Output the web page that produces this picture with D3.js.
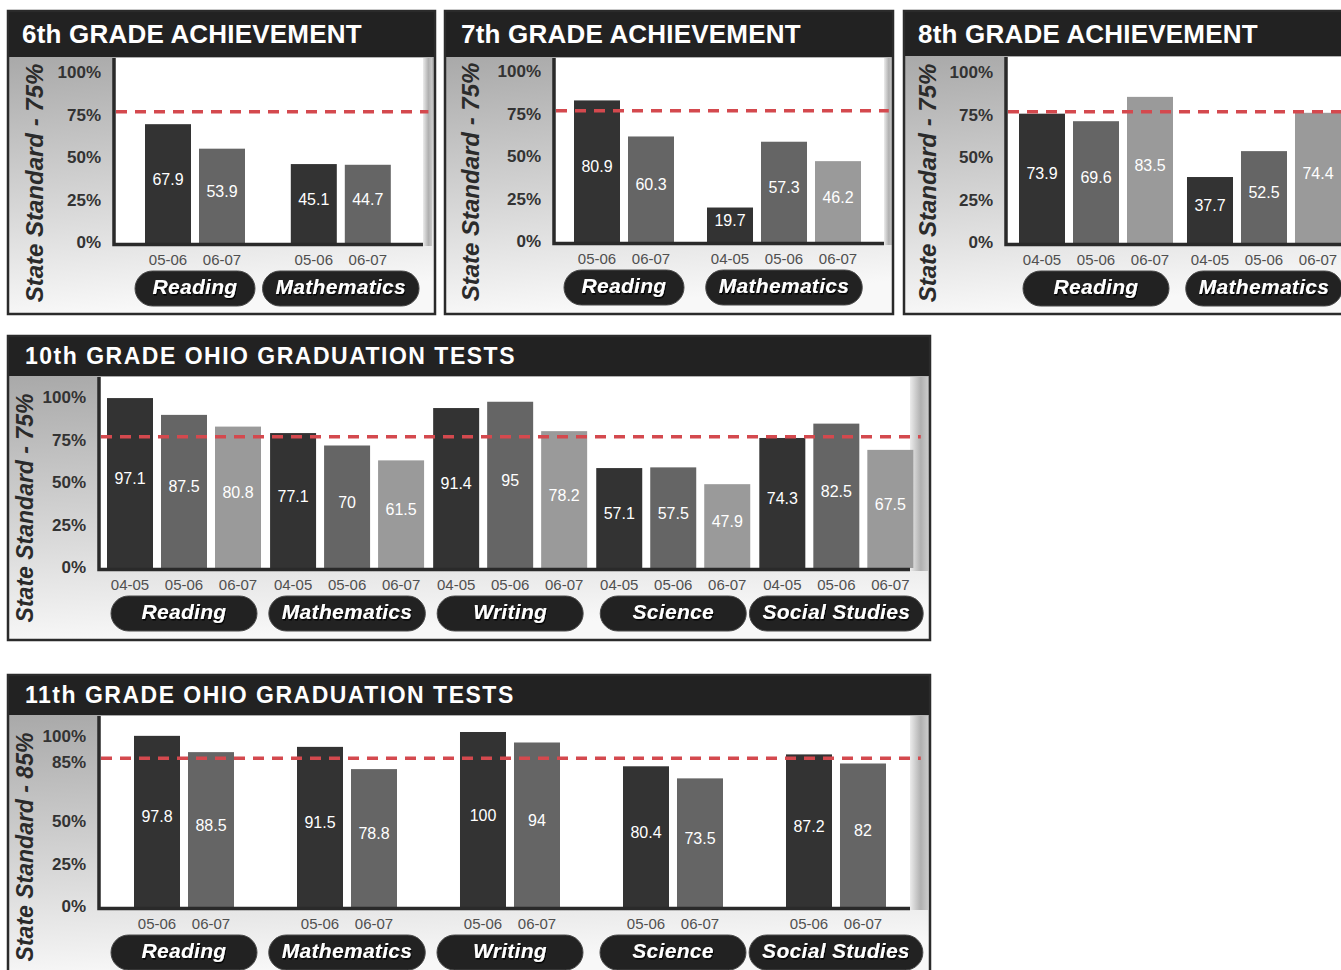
<!DOCTYPE html>
<html>
<head>
<meta charset="utf-8">
<title>Ohio achievement and graduation tests</title>
<script src="https://d3js.org/d3.v7.min.js"></script>
<style>
  body { margin: 0; background: #fff; }
  text { font-family: "Liberation Sans", Arial, Helvetica, sans-serif; }
</style>
</head>
<body>
<div id="viz"></div>
<script>
// ---- data ----
var g6Subjects = ["Reading", "Mathematics"];
var g6Years = [["05-06", "06-07"], ["05-06", "06-07"]];
var g6Scores = [[67.9, 53.9], [45.1, 44.7]];

var g7Subjects = ["Reading", "Mathematics"];
var g7Years = [["05-06", "06-07"], ["04-05", "05-06", "06-07"]];
var g7Scores = [[80.9, 60.3], [19.7, 57.3, 46.2]];

var g8Subjects = ["Reading", "Mathematics"];
var g8Years = [["04-05", "05-06", "06-07"], ["04-05", "05-06", "06-07"]];
var g8Scores = [[73.9, 69.6, 83.5], [37.7, 52.5, 74.4]];

var g10Subjects = ["Reading", "Mathematics", "Writing", "Science", "Social Studies"];
var g10Years = [["04-05", "05-06", "06-07"], ["04-05", "05-06", "06-07"], ["04-05", "05-06", "06-07"],
                ["04-05", "05-06", "06-07"], ["04-05", "05-06", "06-07"]];
var g10Scores = [[97.1, 87.5, 80.8], [77.1, 70, 61.5], [91.4, 95, 78.2], [57.1, 57.5, 47.9], [74.3, 82.5, 67.5]];

var g11Subjects = ["Reading", "Mathematics", "Writing", "Science", "Social Studies"];
var g11Years = [["05-06", "06-07"], ["05-06", "06-07"], ["05-06", "06-07"], ["05-06", "06-07"], ["05-06", "06-07"]];
var g11Scores = [[97.8, 88.5], [91.5, 78.8], [100, 94], [80.4, 73.5], [87.2, 82]];

var ticks75 = [0, 25, 50, 75, 100];
var ticks85 = [0, 25, 50, 85, 100];

// ---- panel layout ----
var panels = [
  {title: "6th GRADE ACHIEVEMENT", subjects: g6Subjects, years: g6Years, scores: g6Scores,
   standard: 75, ticks: ticks75, yLabel: "State Standard - 75%",
   box: [8, 11, 427, 303], head: 46, axisX: 115, base: 243, right: 423, strip: 9,
   x0: 145, gap: 0.70, tSize: 26, tSpace: 0.2, tDx: 14, minPill: 120, lSize: 24, lDx: 35},
  {title: "7th GRADE ACHIEVEMENT", subjects: g7Subjects, years: g7Years, scores: g7Scores,
   standard: 75, ticks: ticks75, yLabel: "State Standard - 75%",
   box: [445, 11, 448, 303], head: 46, axisX: 555, base: 242, right: 884, strip: 8,
   x0: 574, gap: 0.463, tSize: 26, tSpace: 0.2, tDx: 16, minPill: 120, lSize: 24, lDx: 34},
  {title: "8th GRADE ACHIEVEMENT", subjects: g8Subjects, years: g8Years, scores: g8Scores,
   standard: 75, ticks: ticks75, yLabel: "State Standard - 75%",
   box: [904, 11, 452, 303], head: 45, axisX: 1007, base: 243, right: 1345, strip: 9,
   x0: 1019, gap: 0.111, tSize: 26, tSpace: 0.2, tDx: 14, minPill: 146, lSize: 24, lDx: 32},
  {title: "10th GRADE OHIO GRADUATION TESTS", subjects: g10Subjects, years: g10Years, scores: g10Scores,
   standard: 75, ticks: ticks75, yLabel: "State Standard - 75%",
   box: [8, 336, 922, 304], head: 40, axisX: 100, base: 568, right: 910, strip: 18,
   x0: 107, gap: 0.02, tSize: 23, tSpace: 1.5, tDx: 17, minPill: 146, lSize: 23, lDx: 25},
  {title: "11th GRADE OHIO GRADUATION TESTS", subjects: g11Subjects, years: g11Years, scores: g11Scores,
   standard: 85, ticks: ticks85, yLabel: "State Standard - 85%",
   box: [8, 675, 922, 300], head: 40, axisX: 100, base: 907, right: 910, strip: 18,
   x0: 134, gap: 1.0185, tSize: 23, tSpace: 1.5, tDx: 17, minPill: 146, lSize: 23, lDx: 25}
];

var barColors = ["#333333", "#656565", "#9a9a9a"];
var barStep = 54, barW = 46;

var svg = d3.select("#viz").append("svg")
    .attr("width", 1341)
    .attr("height", 970);

var defs = svg.append("defs");

var bg = defs.append("linearGradient").attr("id", "bgGrad")
    .attr("x1", 0).attr("y1", 0).attr("x2", 0.15).attr("y2", 1);
bg.append("stop").attr("offset", "0%").attr("stop-color", "#a9a9a9");
bg.append("stop").attr("offset", "65%").attr("stop-color", "#dcdcdc");
bg.append("stop").attr("offset", "100%").attr("stop-color", "#f8f8f8");

var sg = defs.append("linearGradient").attr("id", "stripGrad")
    .attr("x1", 0).attr("y1", 0).attr("x2", 1).attr("y2", 0);
sg.append("stop").attr("offset", "0%").attr("stop-color", "#ececec");
sg.append("stop").attr("offset", "60%").attr("stop-color", "#b0b0b0");
sg.append("stop").attr("offset", "100%").attr("stop-color", "#cacaca");

var sh = defs.append("filter").attr("id", "pillShadow")
    .attr("x", "-10%").attr("y", "-20%").attr("width", "130%").attr("height", "160%");
sh.append("feDropShadow").attr("dx", 1).attr("dy", 1.5).attr("stdDeviation", 0.7)
    .attr("flood-color", "#000").attr("flood-opacity", 0.9);

function drawPanel(p) {
  var g = svg.append("g");
  var bx = p.box[0], by = p.box[1], bw = p.box[2], bh = p.box[3];
  var top = by + p.head;

  // backgrounds
  g.append("rect").attr("x", bx).attr("y", top).attr("width", bw).attr("height", bh - p.head)
      .attr("fill", "url(#bgGrad)");
  g.append("rect").attr("x", bx).attr("y", by).attr("width", bw).attr("height", p.head)
      .attr("fill", "#222222");
  g.append("rect").attr("x", p.axisX).attr("y", top + 1).attr("width", p.right - p.axisX).attr("height", p.base - top - 1)
      .attr("fill", "#ffffff");
  g.append("rect").attr("x", p.right).attr("y", top + 1).attr("width", p.strip).attr("height", p.base - top + 2)
      .attr("fill", "url(#stripGrad)");

  // title
  g.append("text")
      .attr("x", bx + p.tDx)
      .attr("y", by + p.head / 2 + p.tSize * 0.36)
      .attr("fill", "#ffffff")
      .style("font-size", p.tSize + "px")
      .style("font-weight", "bold")
      .style("letter-spacing", p.tSpace + "px")
      .text(p.title);

  var y = d3.scaleLinear().domain([0, 100]).range([p.base, p.base - 175]);
  var yTick = d3.scaleLinear().domain([0, 100]).range([p.base - 1, p.base - 171]);
  var xs = d3.scaleLinear().domain([0, 1]).range([p.x0, p.x0 + barStep]);

  // flatten the groups into bar slots
  var bars = [], slot = 0;
  p.subjects.forEach(function(s, gi) {
    p.scores[gi].forEach(function(v, bi) {
      bars.push({group: gi, idx: bi, year: p.years[gi][bi], value: v, slot: slot + gi * p.gap});
      slot++;
    });
  });

  // y tick labels
  g.selectAll(".tick")
      .data(p.ticks)
      .enter()
      .append("text")
      .attr("x", p.axisX - 14)
      .attr("y", function(d) { return yTick(d) + 6; })
      .attr("text-anchor", "end")
      .attr("fill", "#333333")
      .style("font-size", "17px")
      .style("font-weight", "bold")
      .text(function(d) { return d + "%"; });

  // rotated axis title
  g.append("text")
      .attr("transform", "translate(" + (bx + p.lDx) + "," + (p.base - 60) + ") rotate(-90)")
      .attr("text-anchor", "middle")
      .attr("fill", "#2b2b2b")
      .style("font-size", p.lSize + "px")
      .style("font-weight", "bold")
      .style("font-style", "italic")
      .text(p.yLabel);

  // bars
  g.selectAll(".bar")
      .data(bars)
      .enter()
      .append("rect")
      .attr("x", function(d) { return xs(d.slot); })
      .attr("y", function(d) { return y(d.value); })
      .attr("width", barW)
      .attr("height", function(d) { return y(0) - y(d.value); })
      .attr("fill", function(d) { return barColors[d.idx]; });

  // value labels
  g.selectAll(".val")
      .data(bars)
      .enter()
      .append("text")
      .attr("x", function(d) { return xs(d.slot) + barW / 2; })
      .attr("y", function(d) { return (y(d.value) + y(0)) / 2 + 1; })
      .attr("text-anchor", "middle")
      .attr("fill", "#ffffff")
      .style("font-size", "16px")
      .text(function(d) { return d.value; });

  // axis lines
  g.append("path")
      .attr("d", "M" + (p.axisX - 1) + "," + (top + 1) + "V" + (p.base + 1.5) + "H" + p.right)
      .attr("fill", "none")
      .attr("stroke", "#2a2a2a")
      .attr("stroke-width", 3.5);

  // state standard line
  g.append("line")
      .attr("x1", p.axisX + 1)
      .attr("x2", p.right + p.strip * 0.6)
      .attr("y1", y(p.standard))
      .attr("y2", y(p.standard))
      .attr("stroke", "#d4494e")
      .attr("stroke-width", 3.5)
      .attr("stroke-dasharray", "11,8");

  // year labels
  g.selectAll(".yr")
      .data(bars)
      .enter()
      .append("text")
      .attr("x", function(d) { return xs(d.slot) + barW / 2; })
      .attr("y", p.base + 22)
      .attr("text-anchor", "middle")
      .attr("fill", "#505050")
      .style("font-size", "15px")
      .text(function(d) { return d.year; });

  // subject pills
  p.subjects.forEach(function(s, gi) {
    var mine = bars.filter(function(b) { return b.group === gi; });
    var cx = (xs(mine[0].slot) + xs(mine[mine.length - 1].slot) + barW) / 2;
    var pill = g.append("rect").attr("y", p.base + 28).attr("height", 35)
        .attr("rx", 17.5).attr("fill", "#222222").attr("stroke", "#4a4a4a").attr("stroke-width", 1);
    var t = g.append("text")
        .attr("x", cx)
        .attr("y", p.base + 28 + 23)
        .attr("text-anchor", "middle")
        .attr("fill", "#ffffff")
        .attr("filter", "url(#pillShadow)")
        .style("font-size", "21px")
        .style("font-weight", "bold")
        .style("font-style", "italic")
        .style("letter-spacing", "0.3px")
        .text(s);
    var w = Math.max(t.node().getComputedTextLength() + 26, p.minPill);
    pill.attr("x", cx - w / 2).attr("width", w);
  });

  // frame
  g.append("rect").attr("x", bx).attr("y", by).attr("width", bw).attr("height", bh)
      .attr("fill", "none").attr("stroke", "#2b2b2b").attr("stroke-width", 2.5);
}

panels.forEach(drawPanel);
</script>
</body>
</html>
